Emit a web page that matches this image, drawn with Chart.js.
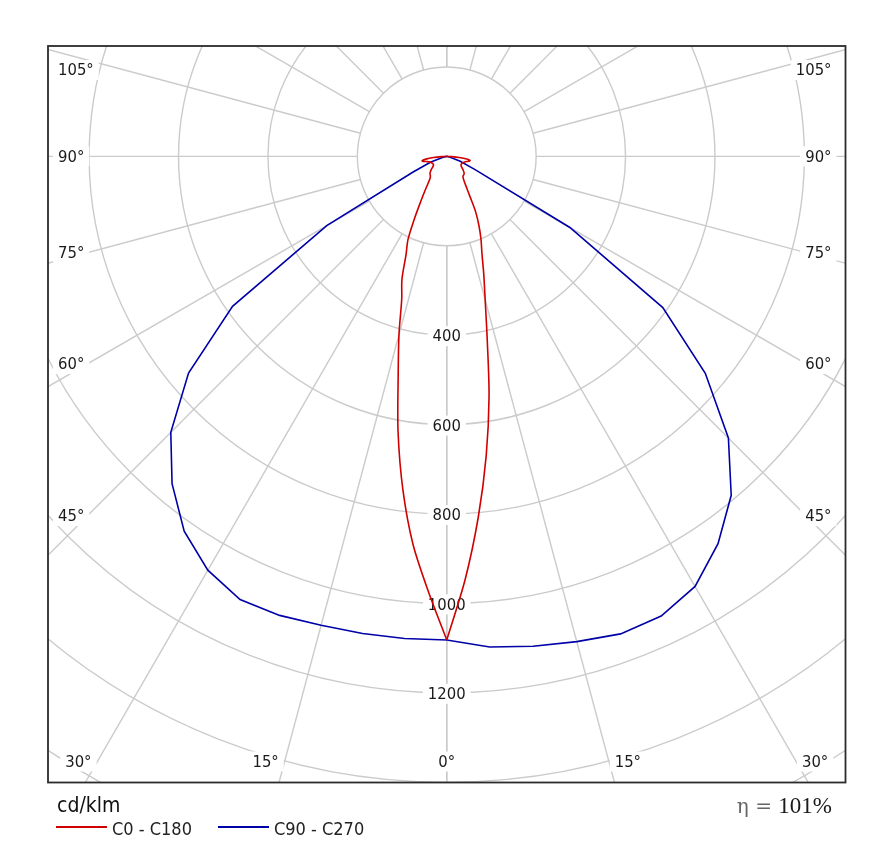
<!DOCTYPE html>
<html>
<head>
<meta charset="utf-8">
<script src="https://cdn.jsdelivr.net/npm/chart.js@4.4.1/dist/chart.umd.min.js"></script>
<style>
  html, body { margin: 0; padding: 0; background: #ffffff; }
  #wrap { position: relative; width: 886px; height: 852px; overflow: hidden; }
  #c { position: absolute; left: 0; top: 0; }
  #unit { position: absolute; left: 57px; top: 795px; font: 21px "DejaVu Sans Condensed", "DejaVu Sans", sans-serif; color: #111; line-height: 1; }
  #legend { position: absolute; left: 56px; top: 817px; height: 22px; display: flex; align-items: center;
            font: 18px "DejaVu Sans Condensed", "DejaVu Sans", sans-serif; color: #222; }
  #legend .item { display: flex; align-items: center; margin-right: 26px; }
  #legend .sw { display: inline-block; width: 51px; height: 0; border-top: 2px solid; margin-right: 5px; position: relative; top: -1px; }
  #eta { position: absolute; right: 54px; top: 793px; line-height: 1; white-space: nowrap; }
  #eta .g { font: 20px "DejaVu Serif", serif; color: #666; }
  #eta .v { font: 23px "Liberation Serif", serif; color: #1a1a1a; }
</style>
</head>
<body>
<div id="wrap">
  <canvas id="c" width="886" height="852"></canvas>
  <div id="unit"></div>
  <div id="legend"></div>
  <div id="eta"></div>
</div>
<script>
// ---------- data (cd/klm) ----------
const gammaRed = [0,2.5,5,7.5,10,12.5,15,17.5,20,22.5,25,27.5,30,32.5,35,37.5,40,42.5,45,47.5,50,52.5,55,57.5,60,62.5,65,67.5,70,72.5,75,77.5,80,82.5,85,87.5,90];
const c0Values   = [1082,947,810,676,545,418,332,275,230,200,170,140,104,82,68,60,57,56,55,52,48,44,40,38,37,37,37,38,40,42,45,50,53,45,28,12,0];
const c180Values = [1082,971,870,752,627,502,413,335,293,238,205,155,116,90,72,61,57,55,53,49,45,40,37,35,35,35,36,37,39,41,45,52,56,47,30,12,0];

const gammaBlue = [0,5,10,15,20,25,30,35,40,45,50,55,60,65,70,75,80,85,90];
const c90Values  = [1082,1102,1113,1124,1137,1135,1111,1058,990,891,755,590,318,70,32,8,2,0,0];
const c270Values = [1082,1083,1084,1086,1093,1094,1069,1024,956,873,754,585,310,83,39,10,3,0,0];

const seriesLabels = ['C0 - C180', 'C90 - C270'];
const seriesColors = ['#d00000', '#0000a8'];
const ringValues = [200,400,600,800,1000,1200,1400,1600,1800];
const ringLabelValues = [400,600,800,1000,1200];
const spokeAngles = [0,15,30,45,60,75,90,105,120,135,150,165,180];
const angleLabelValues = [0,15,30,45,60,75,90,105];
const unitLabel = 'cd/klm';
const etaSymbol = 'η =';
const etaValue = '101%';

// polar (gamma from nadir) -> cartesian half profile; side -1 = left, +1 = right
function halfProfile(gammas, vals, side) {
  return gammas.map((gd, i) => {
    const g = gd * Math.PI / 180;
    return { x: side * vals[i] * Math.sin(g), y: vals[i] * Math.cos(g) };
  });
}
function buildProfile(gammas, leftVals, rightVals) {
  return halfProfile(gammas, leftVals, -1).reverse().concat(halfProfile(gammas, rightVals, 1).slice(1));
}

const FONT = '"DejaVu Sans Condensed", "DejaVu Sans", sans-serif';

function labelBox(ctx, text, x, y, align) {
  const w = ctx.measureText(text).width;
  let left = x - w / 2;
  if (align === 'left') left = x;
  if (align === 'right') left = x - w;
  ctx.fillStyle = '#ffffff';
  ctx.fillRect(left - 5, y - 10, w + 10, 20);
  ctx.fillStyle = '#1a1a1a';
  ctx.textAlign = 'left';
  ctx.textBaseline = 'middle';
  ctx.fillText(text, left, y + 1);
}

const polarGrid = {
  id: 'polarGrid',
  beforeDatasetsDraw(chart) {
    const { ctx, chartArea: a, scales: { x, y } } = chart;
    const cx = x.getPixelForValue(0), cy = y.getPixelForValue(0);
    const k = (x.getPixelForValue(1000) - cx) / 1000;
    ctx.save();
    ctx.beginPath();
    ctx.rect(a.left, a.top, a.right - a.left, a.bottom - a.top);
    ctx.clip();
    ctx.strokeStyle = '#cbcbcb';
    ctx.lineWidth = 1.4;
    ringValues.forEach(r => {
      ctx.beginPath();
      ctx.arc(cx, cy, r * k, 0, Math.PI * 2);
      ctx.stroke();
    });
    const r0 = ringValues[0] * k, r1 = 3000 * k;
    spokeAngles.forEach(g => {
      [-1, 1].forEach(s => {
        const t = g * Math.PI / 180;
        const dx = s * Math.sin(t), dy = Math.cos(t);
        ctx.beginPath();
        ctx.moveTo(cx + dx * r0, cy + dy * r0);
        ctx.lineTo(cx + dx * r1, cy + dy * r1);
        ctx.stroke();
      });
    });
    ctx.font = '16.5px ' + FONT;
    ringLabelValues.forEach(v => {
      labelBox(ctx, String(v), cx, cy + v * k + 1, 'center');
    });
    const sideRef = (a.right - a.left) / 2 - 39;
    const edgeY = a.bottom - 21;
    angleLabelValues.forEach(g => {
      [-1, 1].forEach(s => {
        if (g === 0 && s === 1) return;
        const t = g * Math.PI / 180;
        const dx = Math.sin(t), dy = Math.cos(t);
        const txt = g + '°';
        const tSide = dx > 1e-9 ? sideRef / dx : Infinity;
        const tBot = dy > 1e-9 ? (edgeY - cy) / dy : Infinity;
        if (tBot < tSide) {
          const px = cx + s * (dx * tBot + (g > 0 ? 19 : 0));
          labelBox(ctx, txt, px, edgeY, 'center');
        } else {
          let py = cy + dy * tSide;
          if (g > 90) py += 10;
          if (s < 0) labelBox(ctx, txt, a.left + 10, py, 'left');
          else labelBox(ctx, txt, a.right - 14, py, 'right');
        }
      });
    });
    ctx.restore();
  },
  afterDraw(chart) {
    const { ctx, chartArea: a } = chart;
    ctx.save();
    ctx.strokeStyle = '#2b2b2b';
    ctx.lineWidth = 1.8;
    ctx.strokeRect(a.left, a.top, a.right - a.left, a.bottom - a.top);
    ctx.restore();
  }
};

const lineStyle = (color, tension) => ({
  borderColor: color, backgroundColor: color, showLine: true,
  pointRadius: 0, borderWidth: 1.6, tension: tension, fill: false
});

const chart = new Chart(document.getElementById('c'), {
  type: 'scatter',
  data: {
    datasets: [
      // C0 - C180 drawn as two smooth halves so the nadir stays a sharp point
      Object.assign({ label: seriesLabels[0], data: halfProfile(gammaRed, c0Values, 1) }, lineStyle(seriesColors[0], 0.3)),
      Object.assign({ label: seriesLabels[0], data: halfProfile(gammaRed, c180Values, -1), hideInLegend: true }, lineStyle(seriesColors[0], 0.3)),
      Object.assign({ label: seriesLabels[1], data: buildProfile(gammaBlue, c270Values, c90Values) }, lineStyle(seriesColors[1], 0))
    ]
  },
  options: {
    responsive: false,
    animation: false,
    devicePixelRatio: 1,
    layout: { padding: { left: 48, top: 46, right: 40.5, bottom: 69.5 } },
    scales: {
      x: { type: 'linear', min: -892, max: 892, display: false },
      y: { type: 'linear', min: -247, max: 1401, reverse: true, display: false }
    },
    plugins: { legend: { display: false }, tooltip: { enabled: false } }
  },
  plugins: [polarGrid]
});

document.getElementById('unit').textContent = unitLabel;
const leg = document.getElementById('legend');
chart.data.datasets.filter(ds => !ds.hideInLegend).forEach(ds => {
  const item = document.createElement('span');
  item.className = 'item';
  const sw = document.createElement('span');
  sw.className = 'sw';
  sw.style.borderTopColor = ds.borderColor;
  const tx = document.createElement('span');
  tx.textContent = ds.label;
  item.appendChild(sw);
  item.appendChild(tx);
  leg.appendChild(item);
});
const eta = document.getElementById('eta');
const g = document.createElement('span'); g.className = 'g'; g.textContent = etaSymbol + ' ';
const v = document.createElement('span'); v.className = 'v'; v.textContent = etaValue;
eta.appendChild(g); eta.appendChild(v);
</script>
</body>
</html>
